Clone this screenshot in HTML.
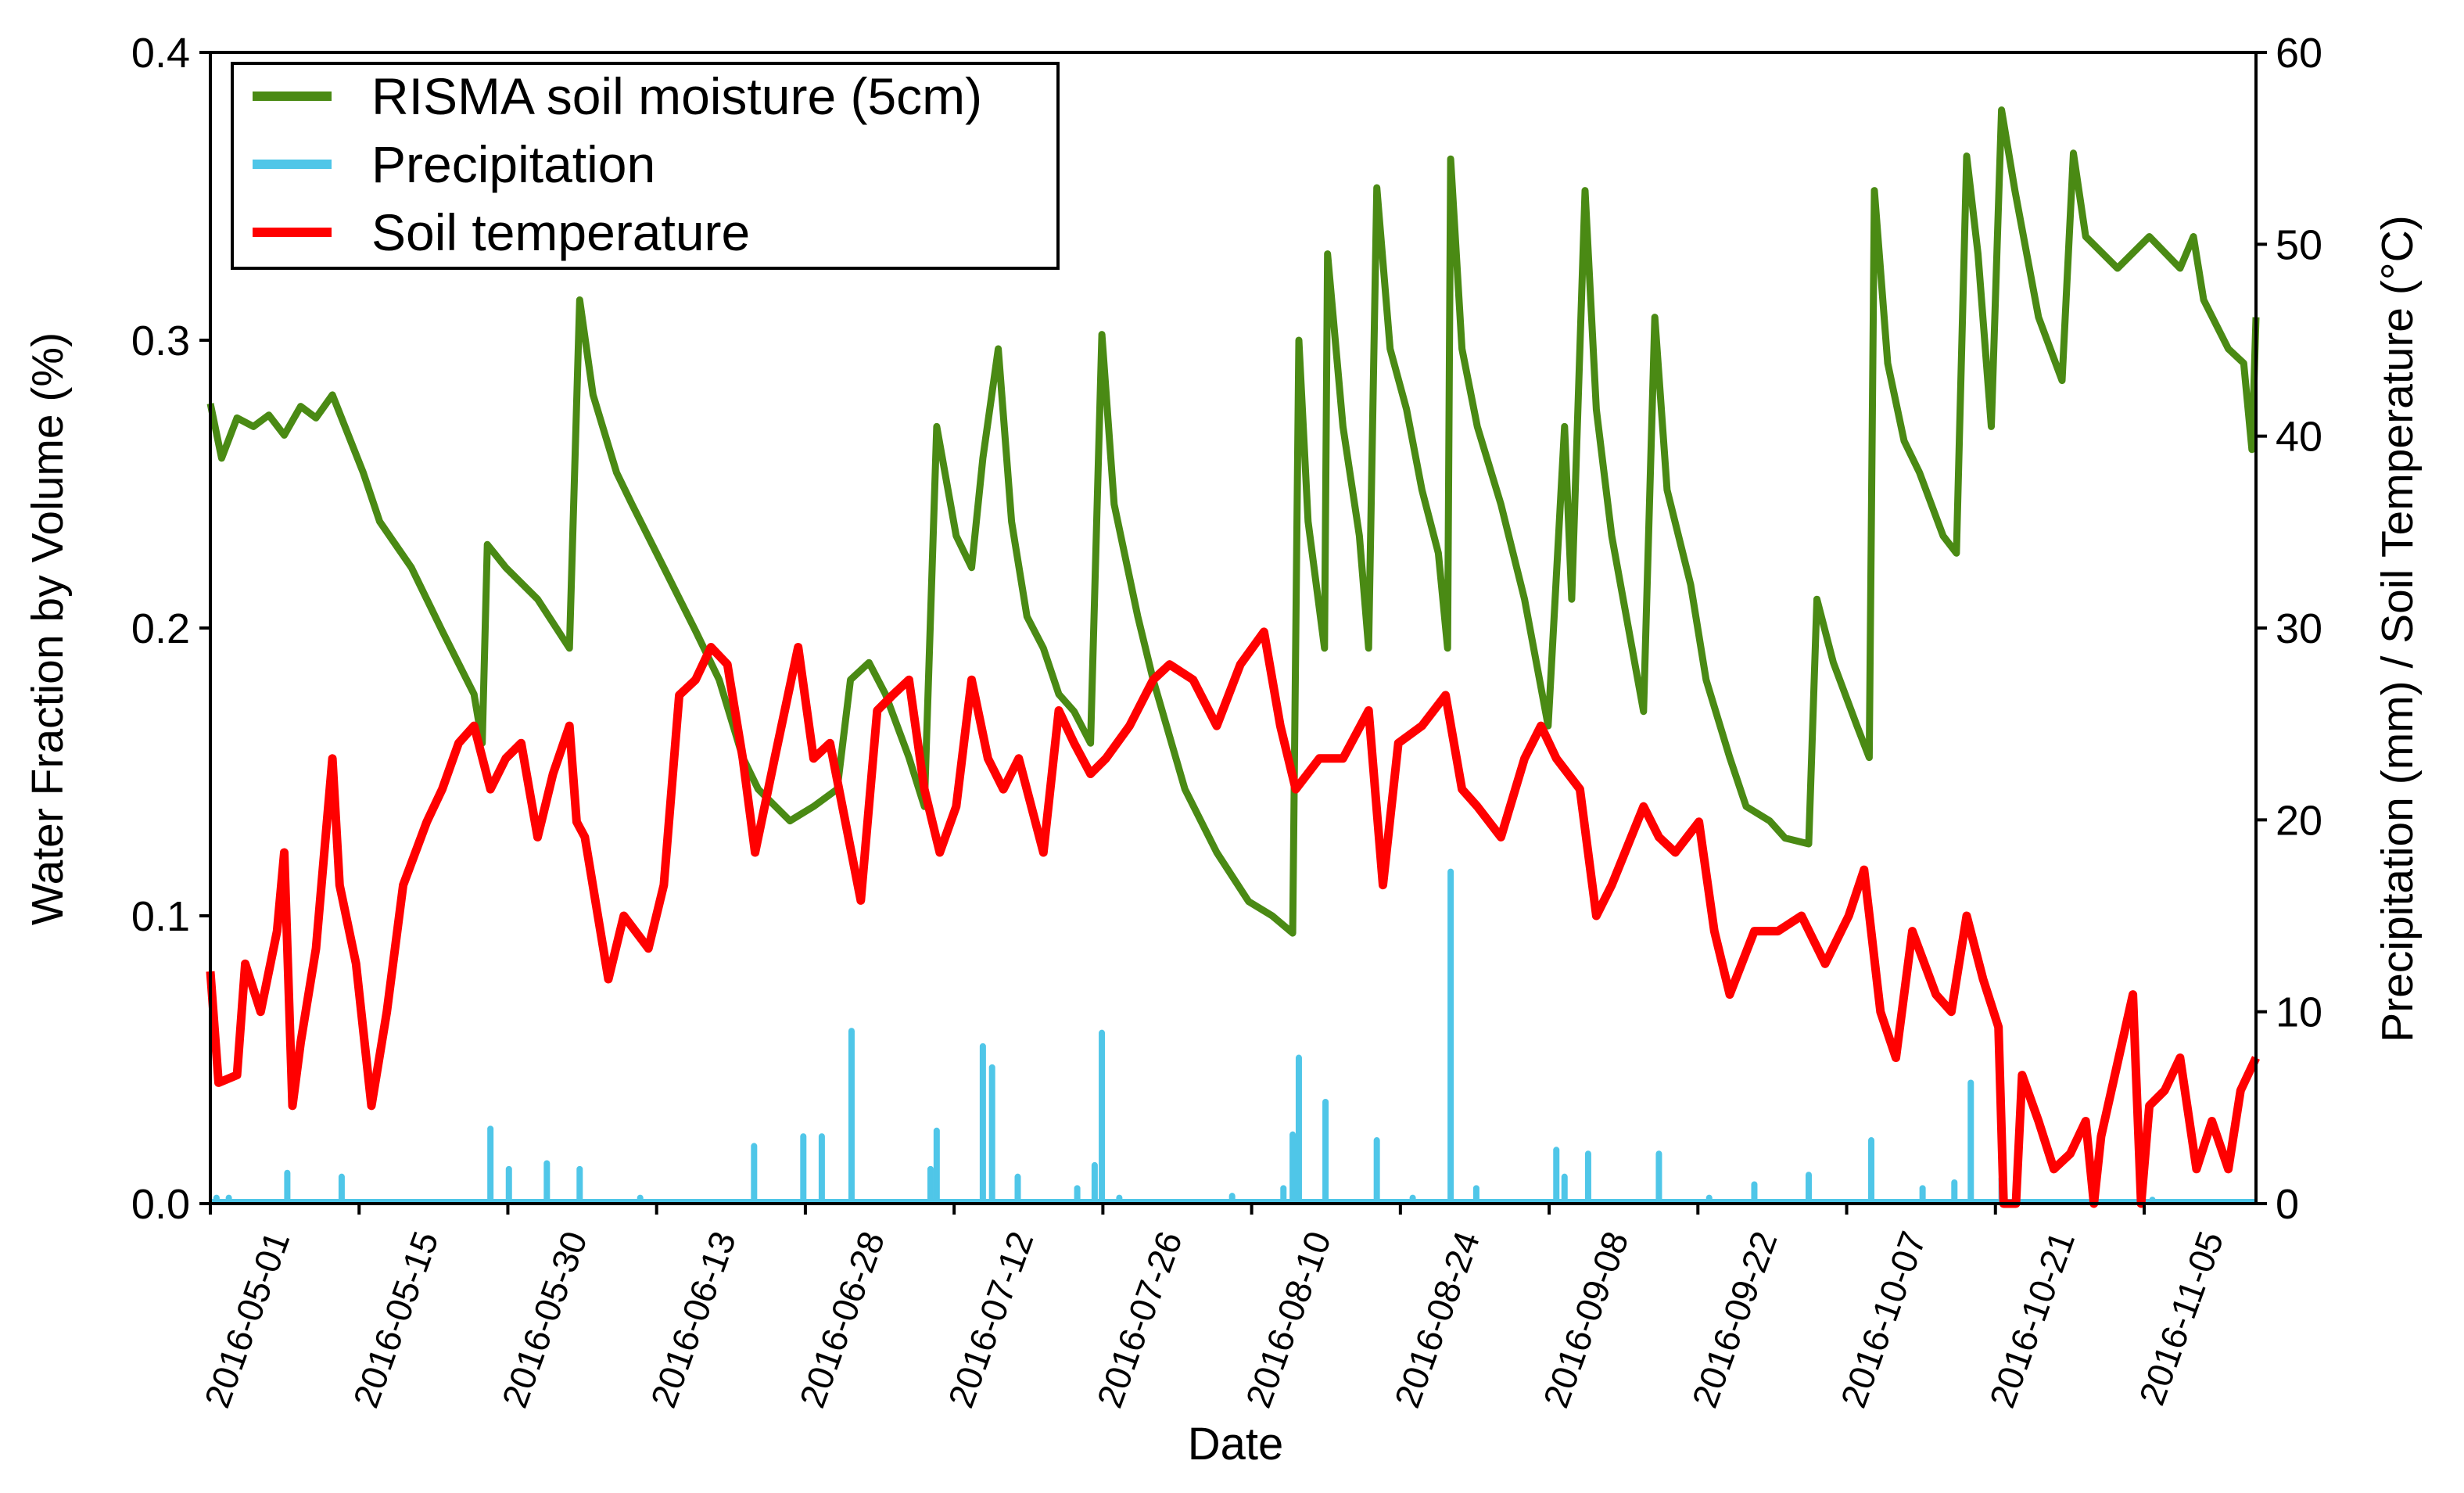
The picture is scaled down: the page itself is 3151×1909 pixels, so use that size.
<!DOCTYPE html>
<html><head><meta charset="utf-8"><style>
html,body{margin:0;padding:0;background:#fff;}
svg{display:block;font-family:"Liberation Sans",Arial,sans-serif;}
</style></head><body>
<svg id="chart" width="3151" height="1909" viewBox="0 0 3151 1909" xmlns="http://www.w3.org/2000/svg">
<g id="plot"></g>
<g id="axes"></g>
<g id="legend">
<rect x="297" y="81" width="1056" height="262" fill="#fff" stroke="#000" stroke-width="4"/>
<line x1="323" y1="123" x2="424" y2="123" stroke="#4a8a14" stroke-width="12"/>
<text x="475" y="146" font-size="66">RISMA soil moisture (5cm)</text>
<line x1="323" y1="210" x2="424" y2="210" stroke="#4fc6e8" stroke-width="12"/>
<text x="475" y="233" font-size="66">Precipitation</text>
<line x1="323" y1="297" x2="424" y2="297" stroke="#ff0000" stroke-width="12"/>
<text x="475" y="320" font-size="66">Soil temperature</text>
</g>
<text x="80" y="804" font-size="57" text-anchor="middle" transform="rotate(-90 80 804)">Water Fraction by Volume (%)</text>
<text x="3085" y="804" font-size="57" text-anchor="middle" transform="rotate(-90 3085 804)">Precipitation (mm) / Soil Temperature (°C)</text>
<text x="1580" y="1866" font-size="58" text-anchor="middle">Date</text>
</svg>
<script>
const dateLabels=["2016-05-01","2016-05-15","2016-05-30","2016-06-13","2016-06-28","2016-07-12","2016-07-26","2016-08-10","2016-08-24","2016-09-08","2016-09-22","2016-10-07","2016-10-21","2016-11-05"];
const leftTicks=[0,0.1,0.2,0.3,0.4];
const leftTickLabels=["0.0","0.1","0.2","0.3","0.4"];
const rightTicks=[0,10,20,30,40,50,60];
const moistDays=[0,1.1,2.6,4.2,5.7,7.2,8.8,10.3,11.9,14.9,16.5,19.6,22.6,25.7,26.5,27.0,28.8,31.9,35.0,36.0,37.3,39.6,41.1,44.2,47.3,49.6,51.9,53.4,56.5,58.8,61.1,62.4,64.2,65.8,68.1,69.6,70.8,72.7,74.2,75.3,76.8,78.1,79.6,81.2,82.7,84.2,85.8,86.9,88.1,90.4,91.9,95.0,98.1,101.2,103.5,105.5,106.1,107.0,108.6,108.9,110.4,112.0,112.9,113.7,115.0,116.6,118.1,119.7,120.6,120.9,122.0,123.5,125.8,128.1,130.4,132.0,132.7,134.0,135.1,136.6,139.7,140.8,142.0,144.3,145.8,148.1,149.7,152.0,153.5,155.8,156.6,158.2,160.5,161.7,162.2,163.5,165.1,166.6,168.9,170.2,171.2,172.3,173.6,174.6,175.9,178.2,180.5,181.6,182.8,185.9,189.0,192.0,193.3,194.3,196.7,198.2,199.0,199.4];
const moistVals=[.278,.259,.273,.270,.274,.267,.277,.273,.281,.254,.237,.221,.199,.177,.160,.229,.221,.210,.193,.314,.281,.254,.243,.221,.199,.182,.155,.144,.133,.138,.144,.182,.188,.177,.155,.138,.270,.232,.221,.259,.297,.237,.204,.193,.177,.171,.160,.302,.243,.204,.182,.144,.122,.105,.100,.094,.300,.237,.193,.330,.270,.232,.193,.353,.297,.276,.248,.226,.193,.363,.297,.270,.243,.210,.166,.270,.210,.352,.276,.232,.171,.308,.248,.215,.182,.155,.138,.133,.127,.125,.210,.188,.166,.155,.352,.292,.265,.254,.232,.226,.364,.330,.270,.380,.352,.308,.286,.365,.336,.325,.336,.325,.336,.314,.297,.292,.262,.308];
const tempDays=[0,0.8,2.6,3.4,4.9,6.5,7.2,8.0,8.8,10.3,11.9,12.6,14.2,15.7,17.2,18.8,21.1,22.6,24.2,25.7,27.3,28.8,30.3,31.9,33.4,35.0,35.7,36.5,38.8,40.3,42.7,44.2,45.7,47.3,48.8,50.4,51.9,53.1,55.0,57.3,58.8,60.4,61.9,63.4,65.0,66.5,68.1,69.6,71.1,72.7,74.2,75.8,77.3,78.8,81.2,82.7,84.2,85.8,87.3,89.6,91.9,93.5,95.8,98.1,100.4,102.7,104.3,105.8,108.1,110.4,112.9,114.3,115.8,118.1,120.4,122.0,123.5,125.8,128.1,129.7,131.2,133.5,135.1,136.6,139.7,141.2,142.8,145.1,146.6,148.1,150.5,152.8,155.1,157.4,159.7,161.2,162.8,164.3,165.9,168.2,169.7,171.2,172.8,174.3,174.8,176.0,176.6,178.2,179.7,181.3,182.8,183.6,184.3,187.4,188.2,189.0,190.5,192.0,193.6,195.1,196.7,197.9,199.4];
const tempVals=[12.1,6.3,6.7,12.5,10.0,14.2,18.3,5.1,8.4,13.3,23.2,16.6,12.5,5.1,10.0,16.6,19.9,21.6,24.0,24.9,21.6,23.2,24.0,19.1,22.4,24.9,19.9,19.1,11.7,15.0,13.3,16.6,26.5,27.3,29.0,28.1,23.2,18.3,23.2,29.0,23.2,24.0,19.9,15.8,25.7,26.5,27.3,21.6,18.3,20.7,27.3,23.2,21.6,23.2,18.3,25.7,24.0,22.4,23.2,24.9,27.3,28.1,27.3,24.9,28.1,29.8,24.9,21.6,23.2,23.2,25.7,16.6,24.0,24.9,26.5,21.6,20.7,19.1,23.2,24.9,23.2,21.6,15.0,16.6,20.7,19.1,18.3,19.9,14.2,10.9,14.2,14.2,15.0,12.5,15.0,17.4,10.0,7.6,14.2,10.9,10.0,15.0,11.7,9.2,0,0,6.7,4.3,1.8,2.6,4.3,0,3.5,10.9,0,5.1,5.9,7.6,1.8,4.3,1.8,5.9,7.6];
const precipDays=[0.6,1.8,7.5,12.8,27.3,29.1,32.8,36.0,41.9,53.0,57.8,59.6,62.5,70.2,70.8,75.3,76.2,78.7,84.5,86.2,86.9,88.6,99.6,104.6,105.5,106.1,108.7,113.7,117.2,120.9,123.4,131.2,132.0,134.3,141.2,146.1,150.5,155.8,161.9,166.9,170.0,171.6,174.6,189.3];
const precipVals=[0.3,0.3,1.6,1.4,3.9,1.8,2.1,1.8,0.3,3.0,3.5,3.5,9.0,1.8,3.8,8.2,7.1,1.4,0.8,2.0,8.9,0.3,0.4,0.8,3.6,7.6,5.3,3.3,0.3,17.3,0.8,2.8,1.4,2.6,2.6,0.3,1.0,1.5,3.3,0.8,1.1,6.3,1.3,0.2];

const L=269,R=2885,T=67,B=1539;
const dayMax=199.4,tickStep=14.5;
const xS=d=>L+d/dayMax*(R-L);
const yL=v=>B-v/0.4*(B-T);
const yR=v=>B-v/60*(B-T);
const NS="http://www.w3.org/2000/svg";
function mk(tag,attrs,parent){const e=document.createElementNS(NS,tag);for(const k in attrs)e.setAttribute(k,attrs[k]);parent.appendChild(e);return e;}
const plot=document.getElementById('plot'),axes=document.getElementById('axes');

const base=mk('line',{x1:L,y1:B-3,x2:R,y2:B-3,stroke:'#4fc6e8','stroke-width':6},plot);


precipDays.forEach((d,i)=>{
  const b=mk('line',{x1:xS(d),y1:B-3,x2:xS(d),y2:yR(precipVals[i]),stroke:'#4fc6e8','stroke-width':8,'stroke-linecap':'round'},plot);
  
  
});
const gp=moistDays.map((d,i)=>xS(d).toFixed(1)+','+yL(moistVals[i]).toFixed(1)).join(' ');
const g=mk('polyline',{points:gp,fill:'none',stroke:'#4a8a14','stroke-width':9,'stroke-linejoin':'round'},plot);


const rp=tempDays.map((d,i)=>xS(d).toFixed(1)+','+yR(tempVals[i]).toFixed(1)).join(' ');
const r=mk('polyline',{points:rp,fill:'none',stroke:'#ff0000','stroke-width':11,'stroke-linejoin':'round'},plot);



const frame=mk('rect',{x:L,y:T,width:R-L,height:B-T,fill:'none',stroke:'#000','stroke-width':4},axes);


leftTicks.forEach((v,i)=>{
  const tk=mk('line',{x1:L-14,y1:yL(v),x2:L,y2:yL(v),stroke:'#000','stroke-width':4},axes);
  
  
  const t=mk('text',{x:243,y:yL(v)+19,'font-size':54,'text-anchor':'end'},axes);
  t.textContent=leftTickLabels[i];
  
  
});
rightTicks.forEach(v=>{
  const tk=mk('line',{x1:R,y1:yR(v),x2:R+14,y2:yR(v),stroke:'#000','stroke-width':4},axes);
  
  
  const t=mk('text',{x:2910,y:yR(v)+19,'font-size':54},axes);
  t.textContent=String(v);
  
  
});
dateLabels.forEach((s,i)=>{
  const x=xS(i*tickStep);
  const tk=mk('line',{x1:x,y1:B,x2:x,y2:B+14,stroke:'#000','stroke-width':4},axes);
  
  
  const lx=x+102,ly=1582;
  const t=mk('text',{x:lx,y:ly,'font-size':46,'text-anchor':'end',transform:`rotate(-70 ${lx} ${ly})`},axes);
  t.textContent=s;
  
  
});
</script>
</body></html>
